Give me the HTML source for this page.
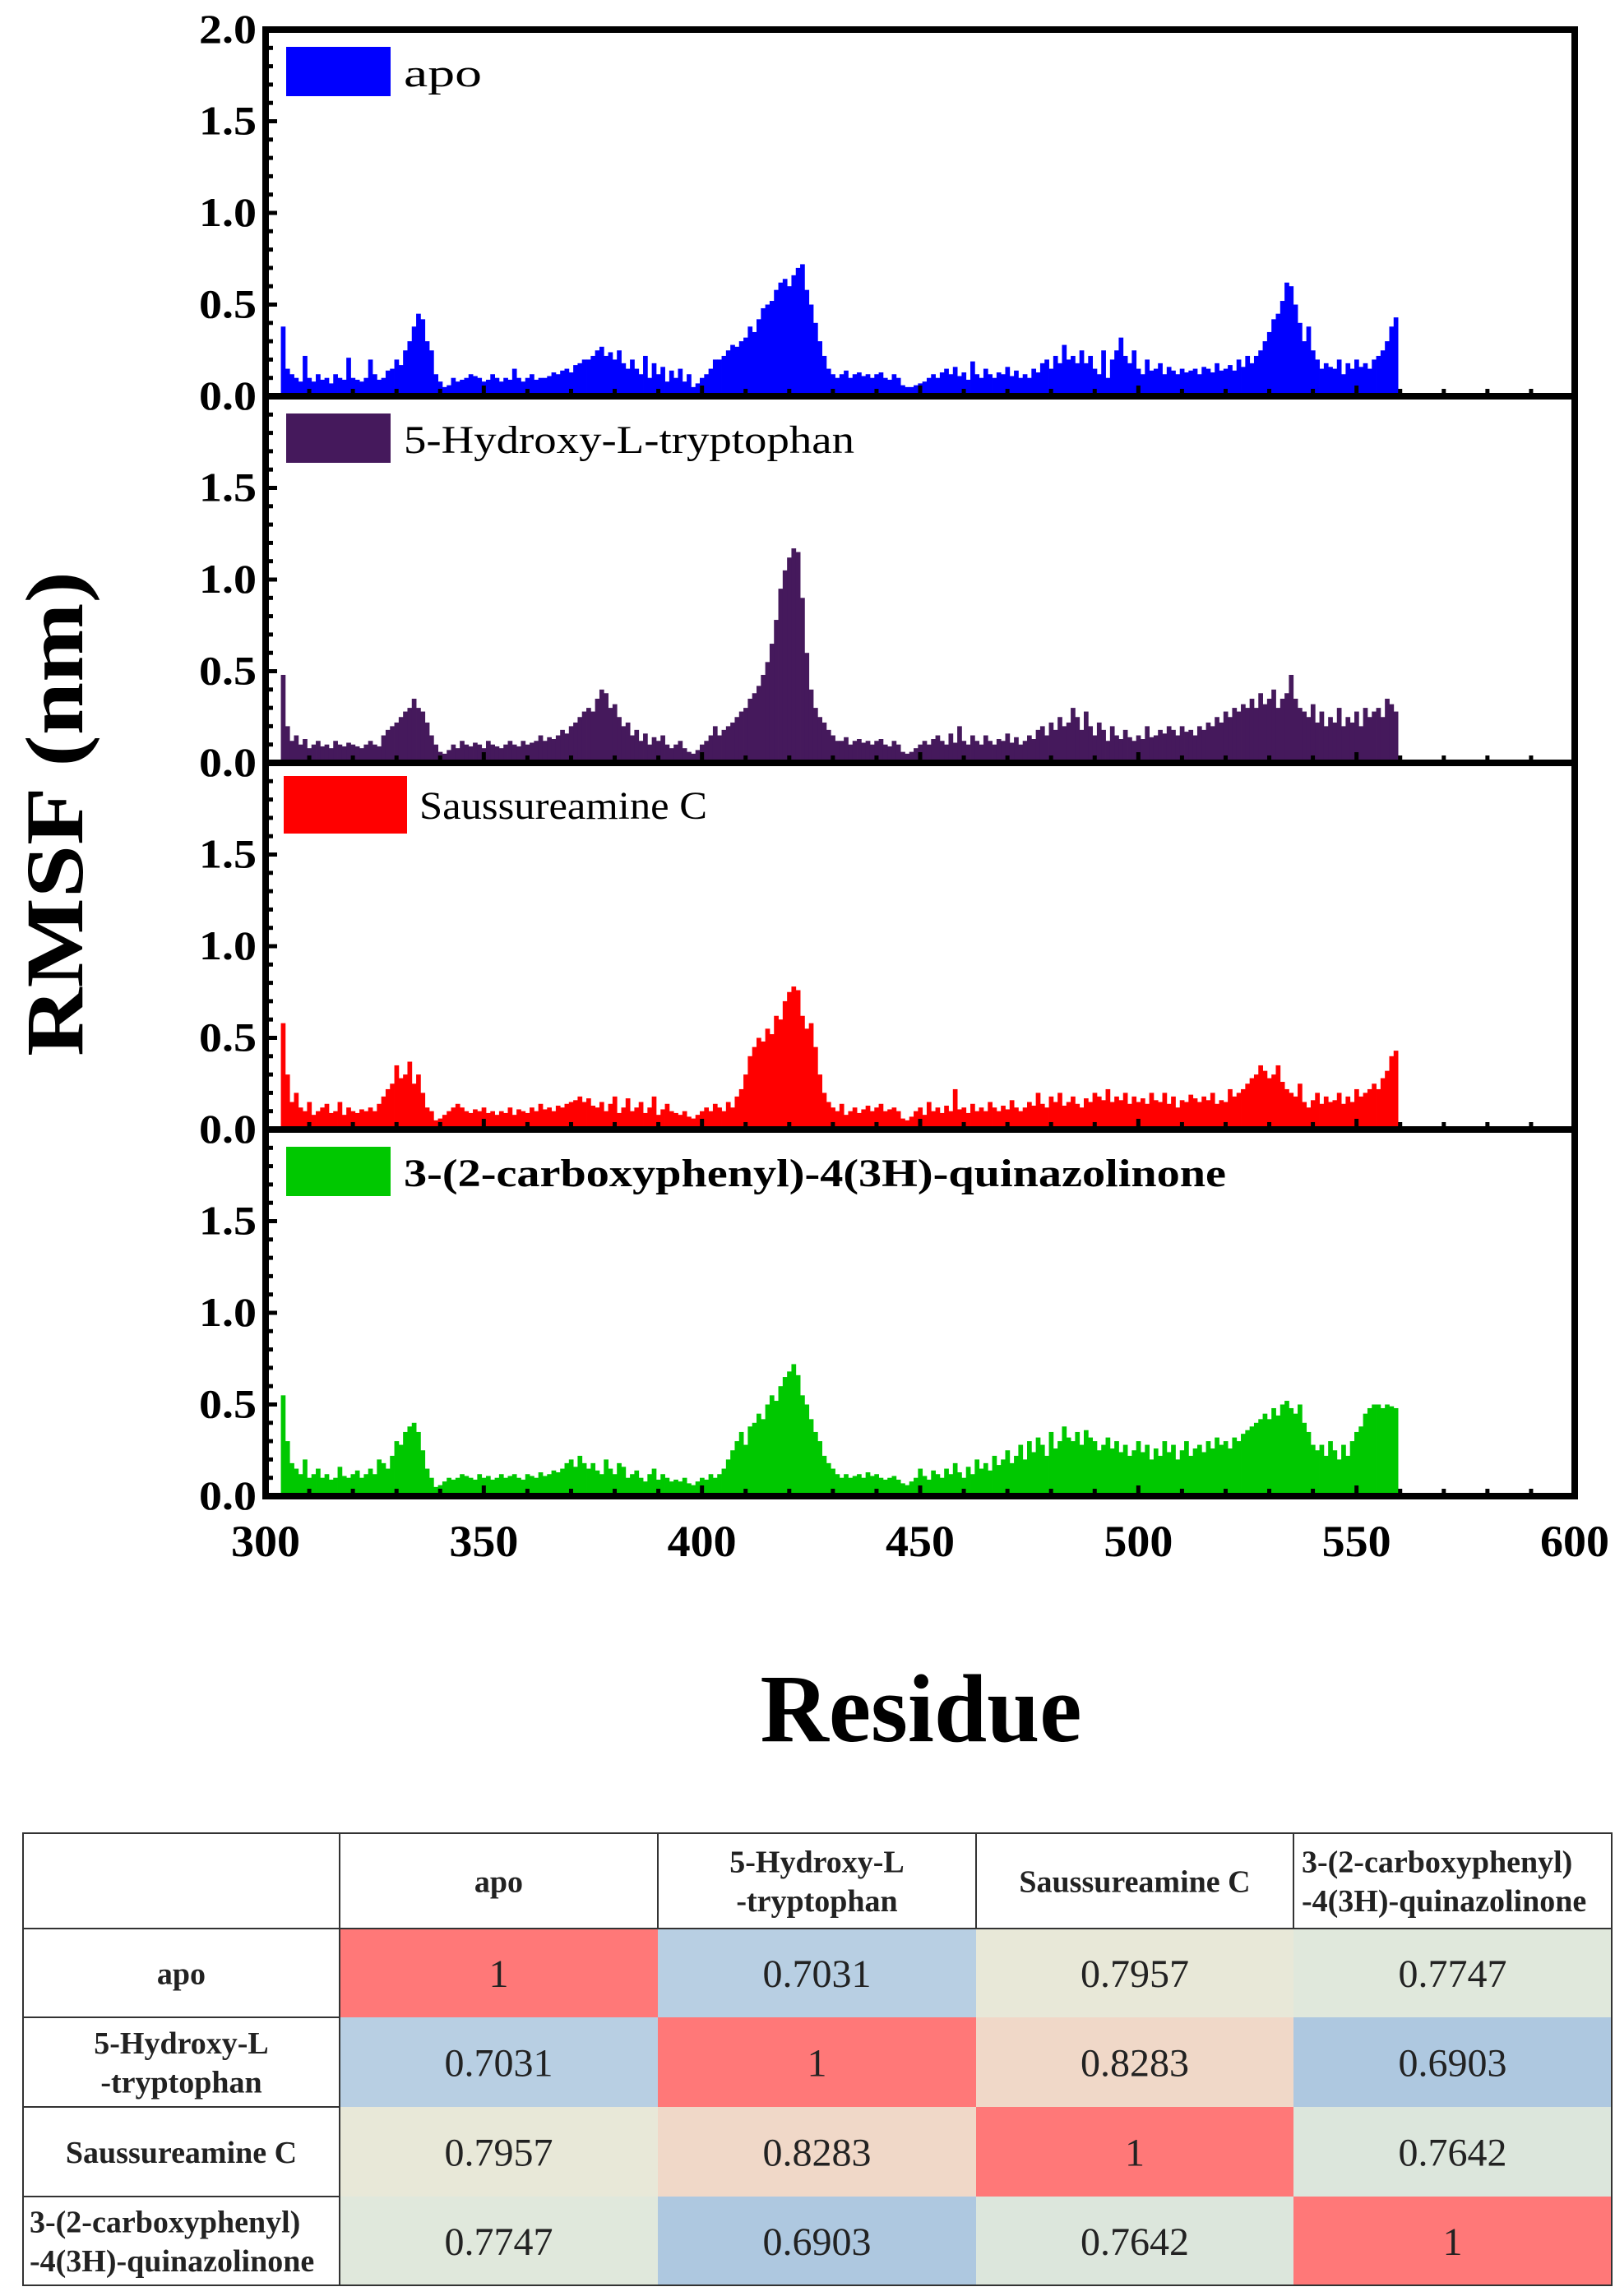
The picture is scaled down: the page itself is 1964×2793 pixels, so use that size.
<!DOCTYPE html>
<html><head><meta charset="utf-8"><style>
html,body{margin:0;padding:0;background:#fff;}
svg{display:block;font-family:"Liberation Serif",serif;}
svg text{font-family:"Liberation Serif",serif;}
</style></head><body>
<svg id="chart" width="1964" height="2793" viewBox="0 0 1964 2793" xmlns="http://www.w3.org/2000/svg" font-family="Liberation Serif, serif">
<g id="bars"></g>
<g id="frames"></g>
<g id="labels"></g>
<text transform="translate(100,990) rotate(-90)" text-anchor="middle" font-weight="bold" font-size="100" textLength="590" lengthAdjust="spacingAndGlyphs">RMSF (nm)</text>
<text x="1120" y="2118" text-anchor="middle" font-weight="bold" font-size="118" textLength="391" lengthAdjust="spacingAndGlyphs">Residue</text>
<g id="table"></g>
</svg>
<script>
const startResidue = 304;
const apo = [
.38,.15,.12,.10,.08,.22,.10,.08,.12,.09,
.10,.07,.12,.10,.09,.21,.10,.09,.08,.10,
.20,.12,.09,.10,.14,.15,.20,.17,.25,.30,
.38,.45,.42,.30,.25,.12,.08,.05,.06,.10,
.08,.09,.10,.12,.11,.10,.08,.09,.12,.10,
.08,.10,.09,.15,.10,.08,.10,.12,.09,.10,
.10,.11,.13,.12,.14,.15,.13,.17,.18,.20,
.20,.22,.25,.27,.22,.24,.20,.25,.18,.15,
.20,.15,.12,.22,.10,.18,.12,.16,.08,.14,
.10,.15,.08,.12,.05,.07,.10,.12,.15,.20,
.20,.22,.25,.28,.27,.30,.32,.38,.35,.42,
.48,.50,.52,.58,.62,.64,.60,.66,.70,.72,
.58,.50,.40,.30,.22,.15,.12,.10,.12,.14,
.10,.12,.13,.11,.12,.10,.12,.13,.10,.09,
.12,.10,.06,.05,.05,.06,.07,.08,.10,.12,
.10,.13,.15,.12,.16,.11,.13,.09,.19,.12,
.10,.15,.12,.10,.13,.12,.16,.11,.14,.10,
.12,.10,.15,.13,.18,.20,.15,.22,.18,.28,
.20,.22,.18,.25,.18,.22,.15,.12,.25,.10,
.20,.25,.32,.22,.18,.25,.15,.12,.20,.14,
.15,.18,.12,.16,.14,.12,.15,.13,.14,.15,
.12,.16,.15,.13,.18,.14,.15,.17,.14,.20,
.16,.22,.18,.22,.25,.30,.35,.42,.45,.52,
.62,.60,.50,.40,.30,.38,.25,.20,.15,.18,
.16,.15,.20,.12,.18,.15,.20,.16,.18,.15,
.20,.22,.25,.30,.38,.43];
const hydroxy = [
.48,.20,.12,.15,.10,.13,.08,.10,.12,.09,
.10,.08,.12,.10,.09,.11,.10,.09,.08,.10,
.12,.10,.09,.15,.18,.20,.22,.25,.28,.30,
.35,.30,.28,.22,.15,.10,.06,.05,.07,.10,
.08,.12,.10,.09,.11,.10,.08,.12,.10,.09,
.08,.10,.12,.10,.09,.12,.10,.11,.12,.15,
.12,.14,.13,.15,.18,.16,.20,.22,.25,.28,
.30,.28,.35,.40,.38,.30,.32,.25,.20,.22,
.15,.18,.12,.16,.10,.14,.12,.15,.10,.08,
.10,.12,.08,.06,.05,.07,.10,.12,.15,.20,
.15,.18,.20,.22,.25,.28,.30,.35,.38,.42,
.48,.55,.65,.78,.95,1.05,1.12,1.17,1.15,.90,
.60,.40,.30,.25,.22,.18,.15,.12,.12,.14,
.10,.12,.13,.11,.12,.10,.12,.13,.10,.09,
.12,.10,.06,.05,.06,.08,.10,.12,.10,.13,
.15,.12,.10,.16,.11,.20,.12,.10,.15,.12,
.10,.15,.12,.10,.13,.12,.16,.11,.14,.10,
.12,.15,.13,.18,.20,.15,.22,.18,.25,.20,
.22,.30,.25,.18,.28,.20,.15,.22,.18,.12,
.20,.15,.13,.18,.14,.12,.15,.13,.20,.14,
.15,.18,.16,.20,.18,.15,.20,.17,.18,.15,
.20,.18,.22,.20,.25,.22,.28,.25,.30,.28,
.32,.30,.35,.30,.38,.32,.35,.40,.30,.35,
.38,.48,.35,.30,.28,.25,.32,.22,.28,.20,
.25,.22,.30,.20,.25,.22,.28,.20,.30,.25,
.28,.30,.25,.35,.32,.28];
const saussureamine = [
.58,.30,.15,.20,.12,.10,.15,.08,.10,.12,
.14,.09,.10,.15,.08,.12,.10,.09,.11,.10,
.12,.10,.14,.18,.22,.25,.35,.28,.30,.37,
.25,.30,.20,.12,.10,.05,.06,.08,.10,.12,
.14,.12,.10,.09,.11,.10,.12,.09,.10,.08,
.10,.09,.12,.08,.11,.10,.09,.12,.10,.14,
.11,.12,.10,.13,.12,.14,.15,.16,.18,.15,
.17,.13,.12,.15,.10,.14,.18,.09,.12,.17,
.10,.12,.15,.09,.12,.18,.08,.11,.14,.10,
.09,.08,.10,.07,.06,.08,.10,.12,.10,.14,
.12,.10,.15,.12,.18,.22,.30,.40,.45,.50,
.48,.55,.52,.62,.60,.70,.75,.78,.76,.62,
.55,.58,.45,.30,.20,.15,.12,.10,.14,.08,
.10,.12,.09,.11,.13,.10,.12,.14,.10,.11,
.12,.10,.06,.05,.07,.10,.12,.08,.15,.10,
.12,.09,.13,.10,.22,.11,.12,.09,.14,.10,
.12,.10,.15,.12,.10,.13,.11,.16,.12,.10,
.12,.15,.13,.20,.14,.12,.18,.15,.20,.13,
.15,.18,.14,.12,.17,.15,.20,.18,.16,.22,
.15,.18,.16,.20,.14,.18,.15,.17,.14,.20,
.16,.15,.20,.14,.18,.12,.16,.15,.19,.17,
.15,.18,.16,.20,.14,.16,.15,.22,.18,.20,
.22,.25,.28,.30,.35,.32,.28,.30,.35,.26,
.22,.20,.18,.25,.15,.12,.16,.20,.14,.18,
.15,.16,.20,.14,.18,.15,.22,.18,.20,.22,
.25,.22,.28,.32,.40,.43];
const quinazolinone = [
.55,.30,.18,.15,.12,.20,.10,.12,.15,.10,
.12,.09,.10,.16,.11,.10,.12,.14,.10,.12,
.15,.12,.20,.18,.15,.22,.30,.28,.35,.38,
.40,.35,.25,.15,.10,.05,.06,.08,.10,.09,
.10,.12,.11,.10,.09,.12,.10,.11,.09,.10,
.12,.10,.11,.12,.10,.09,.12,.11,.10,.13,
.11,.12,.14,.13,.15,.18,.20,.16,.22,.18,
.15,.18,.14,.12,.20,.15,.12,.18,.16,.10,
.12,.14,.10,.08,.12,.15,.09,.12,.10,.08,
.09,.08,.10,.07,.06,.08,.10,.09,.12,.10,
.12,.15,.20,.25,.30,.35,.28,.38,.40,.45,
.42,.50,.55,.52,.60,.65,.68,.72,.66,.55,
.50,.42,.35,.30,.22,.18,.15,.12,.10,.12,
.10,.11,.12,.10,.13,.11,.12,.10,.09,.10,
.11,.09,.07,.06,.08,.10,.15,.11,.09,.14,
.12,.10,.15,.12,.18,.13,.10,.16,.12,.20,
.15,.18,.14,.22,.17,.20,.25,.18,.22,.28,
.20,.30,.24,.32,.28,.22,.35,.26,.30,.38,
.32,.30,.35,.28,.36,.32,.30,.25,.28,.32,
.26,.30,.24,.28,.22,.25,.30,.24,.28,.20,
.26,.22,.30,.24,.28,.20,.25,.30,.22,.26,
.28,.24,.30,.26,.32,.28,.30,.26,.32,.30,
.34,.36,.38,.40,.42,.45,.42,.48,.44,.50,
.52,.48,.45,.50,.40,.35,.28,.25,.28,.22,
.30,.25,.20,.28,.22,.30,.35,.38,.45,.48,
.50,.50,.48,.50,.49,.48];
const seriesNames = ["apo","5-Hydroxy-L-tryptophan","Saussureamine C","3-(2-carboxyphenyl)-4(3H)-quinazolinone"];
const seriesColors = ["#0000ff","#45195c","#ff0000","#00c800"];
const xTicks = [300,350,400,450,500,550,600];
const yTicks = [0,0.5,1.0,1.5];
const tableHeaders = ["apo","5-Hydroxy-L|-tryptophan","Saussureamine C","3-(2-carboxyphenyl)|-4(3H)-quinazolinone"];
const corr = [[1,0.7031,0.7957,0.7747],[0.7031,1,0.8283,0.6903],[0.7957,0.8283,1,0.7642],[0.7747,0.6903,0.7642,1]];

const NS="http://www.w3.org/2000/svg";
const X0=323,X1=1915,XMIN=300,XMAX=600,PT=36,PH=446,YMAX=2.0;
const xs=v=>X0+(v-XMIN)*(X1-X0)/(XMAX-XMIN);
const ys=(p,v)=>PT+PH*(p+1)-v*PH/YMAX;
function mk(tag,attrs,parent,txt){const e=document.createElementNS(NS,tag);for(const k in attrs)e.setAttribute(k,attrs[k]);if(txt!==undefined)e.textContent=txt;parent.appendChild(e);return e;}
const bars=document.getElementById('bars'),frames=document.getElementById('frames'),labels=document.getElementById('labels');
const allSeries=[apo,hydroxy,saussureamine,quinazolinone];
const legendText=[{w:95,b:false},{w:548,b:false},{w:350,b:false},{w:1000,b:true}];
allSeries.forEach((arr,p)=>{
  const g=mk('g',{},bars);
  
  
  arr.forEach((v,i)=>{
    const r=startResidue+i;const x=xs(r-0.5),w=xs(r+0.5)-x;const y=ys(p,v);
    const b=mk('rect',{x:x.toFixed(2),y:y.toFixed(2),width:(w+0.4).toFixed(2),height:(ys(p,0)-y).toFixed(2),fill:seriesColors[p]},g);
    
    
  });
  const ly=PT+PH*p+(p===2?16:21);
  const lb=mk('rect',{x:p===2?345:348,y:ly,width:p===2?150:127,height:p===2?70:60,fill:seriesColors[p]},labels);
  
  
  const lt=mk('text',{x:p===2?510:491,y:ly+(p===2?52:48),'font-size':48,'font-weight':legendText[p].b?'bold':'normal',textLength:legendText[p].w,lengthAdjust:'spacingAndGlyphs'},labels,seriesNames[p]);
  
  
  const yl=(p===0)?yTicks.concat([2.0]):yTicks;
  yl.forEach(t=>{
    const tl=mk('text',{x:312,y:ys(p,t)+16,'text-anchor':'end','font-size':50,'font-weight':'bold',textLength:70,lengthAdjust:'spacingAndGlyphs'},labels,t.toFixed(1));
    
    
  });
  for(let k=0;k<=20;k++){
    const t=mk('line',{x1:X0,x2:X0+(k%5===0?14:9),y1:ys(p,k*0.1),y2:ys(p,k*0.1),stroke:'#000','stroke-width':5},frames);
    
    
  }
  for(let r=XMIN+10;r<XMAX;r+=10){
    const t=mk('line',{x1:xs(r),x2:xs(r),y1:ys(p,0),y2:ys(p,0)-(r%50===0?13:9),stroke:'#000','stroke-width':5},frames);
    
    
  }
  const fr=mk('rect',{x:X0,y:PT+PH*p,width:X1-X0,height:PH,fill:'none',stroke:'#000','stroke-width':8},frames);
  
  
});
xTicks.forEach(t=>{
  const e=mk('text',{x:xs(t),y:1893,'text-anchor':'middle','font-size':54,'font-weight':'bold',textLength:84,lengthAdjust:'spacingAndGlyphs'},labels,String(t));
  
  
});
const tb=document.getElementById('table');
const cx=[28,413,800,1187,1573,1960],ry=[2230,2346,2454,2563,2672,2780];
function cellColor(v){
  if(v===1)return '#ff7878';
  if(v<0.695)return '#aec8e0';
  if(v<0.72)return '#b8cfe3';
  if(v<0.77)return '#dce6dc';
  if(v<0.78)return '#e0e8dc';
  if(v<0.81)return '#e8e8d8';
  return '#f0d8c8';
}
function multiText(txt,x,cy,size,bold,anchor,name){
  const parts=txt.split('|');
  parts.forEach((s,k)=>{
    const y=cy+size*0.35+(k-(parts.length-1)/2)*size*1.25;
    const e=mk('text',{x:x,y:y,'text-anchor':anchor,'font-size':size,'font-weight':bold?'bold':'normal',fill:'#222'},tb,s);
    
    
  });
}
for(let i=0;i<4;i++)for(let j=0;j<4;j++){
  const c=mk('rect',{x:cx[j+1],y:ry[i+1],width:cx[j+2]-cx[j+1],height:ry[i+2]-ry[i+1],fill:cellColor(corr[i][j])},tb);
  
  
  const v=corr[i][j];
  multiText(v===1?'1':v.toFixed(4),(cx[j+1]+cx[j+2])/2,(ry[i+1]+ry[i+2])/2,48,false,'middle','cell-value');
}
tableHeaders.forEach((h,k)=>{
  const long=h.indexOf('carboxy')>=0;
  multiText(h,long?cx[k+1]+10:(cx[k+1]+cx[k+2])/2,(ry[0]+ry[1])/2,38,true,long?'start':'middle','column-header');
  multiText(h,long?cx[0]+8:(cx[0]+cx[1])/2,(ry[k+1]+ry[k+2])/2,38,true,long?'start':'middle','row-header');
});
const bl=mk('path',{d:`M${cx[0]} ${ry[0]}H${cx[5]}V${ry[5]}H${cx[0]}Z M${cx[0]} ${ry[1]}H${cx[5]} M${cx[1]} ${ry[0]}V${ry[5]} M${cx[2]} ${ry[0]}V${ry[1]} M${cx[3]} ${ry[0]}V${ry[1]} M${cx[4]} ${ry[0]}V${ry[1]} M${cx[0]} ${ry[2]}H${cx[1]} M${cx[0]} ${ry[3]}H${cx[1]} M${cx[0]} ${ry[4]}H${cx[1]}`,fill:'none',stroke:'#333','stroke-width':2},tb);


</script>
</body></html>
